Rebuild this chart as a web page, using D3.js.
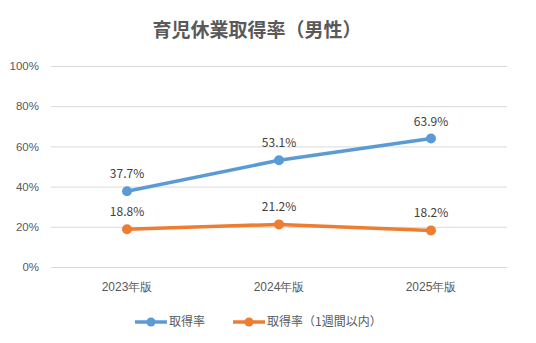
<!DOCTYPE html>
<html>
<head>
<meta charset="utf-8">
<script src="https://cdn.jsdelivr.net/npm/d3@7"></script>
<style>
  body { margin: 0; background: #fff; }
  svg { display: block; font-family: "Noto Sans CJK JP", "Noto Sans", sans-serif; }
</style>
</head>
<body>
<svg id="chart" width="536" height="343"></svg>
<script>
const years = ["2023年版", "2024年版", "2025年版"];
const rateAll = [37.7, 53.1, 63.9];
const rateWeek = [18.8, 21.2, 18.2];
const seriesNames = ["取得率", "取得率（1週間以内）"];
const colors = ["#5B9BD5", "#ED7D31"];
const yTicks = [0, 20, 40, 60, 80, 100];

const width = 536;
const height = 343;
const margin = { top: 66, right: 29, bottom: 76, left: 51 };

const svg = d3.select("#chart");

const x = d3
  .scaleBand()
  .domain(years)
  .range([margin.left, width - margin.right]);

const y = d3
  .scaleLinear()
  .domain([0, 100])
  .range([height - margin.bottom, margin.top]);

// title
svg
  .append("text")
  .attr("x", 257)
  .attr("y", 37)
  .attr("text-anchor", "middle")
  .attr("fill", "#595959")
  .attr("font-size", 19)
  .attr("font-weight", "bold")
  .text("育児休業取得率（男性）");

// gridlines + y labels
const yAxis = (g) =>
  g
    .attr("transform", `translate(${margin.left},0)`)
    .call(
      d3
        .axisLeft(y)
        .tickValues(yTicks)
        .tickSize(-(width - margin.left - margin.right))
        .tickPadding(12)
        .tickFormat((d) => d + "%")
    )
    .call((g) => g.select(".domain").remove())
    .call((g) => g.selectAll(".tick line").attr("stroke", "#d9d9d9"))
    .call((g) =>
      g
        .selectAll(".tick text")
        .attr("fill", "#595959")
        .attr("font-size", 11.5)
    );

svg.append("g").call(yAxis);

const xAxis = (g) =>
  g
    .attr("transform", `translate(0,${height - margin.bottom})`)
    .call(d3.axisBottom(x).tickSize(0).tickPadding(15))
    .call((g) => g.select(".domain").remove())
    .call((g) =>
      g
        .selectAll(".tick text")
        .attr("fill", "#595959")
        .attr("font-size", 12)
    );

svg.append("g").call(xAxis);

const series = [rateAll, rateWeek];
const line = d3
  .line()
  .x((d, i) => x(years[i]) + x.bandwidth() / 2)
  .y((d) => y(d));

series.forEach((vals, s) => {
  const g = svg.append("g");
  g.append("path")
    .datum(vals)
    .attr("fill", "none")
    .attr("stroke", colors[s])
    .attr("stroke-width", 3.5)
    .attr("stroke-linecap", "round")
    .attr("stroke-linejoin", "round")
    .attr("d", line);

  g.selectAll("circle")
    .data(vals)
    .join("circle")
    .attr("cx", (d, i) => x(years[i]) + x.bandwidth() / 2)
    .attr("cy", (d) => y(d))
    .attr("r", 5)
    .attr("fill", colors[s]);

  g.selectAll("text")
    .data(vals)
    .join("text")
    .attr("x", (d, i) => x(years[i]) + x.bandwidth() / 2)
    .attr("y", (d) => y(d) - 13)
    .attr("text-anchor", "middle")
    .attr("fill", "#404040")
    .attr("font-size", 12)
    .text((d) => d.toFixed(1) + "%");
});

// legend
const legendX = [135, 233];
const legend = svg
  .append("g")
  .selectAll("g")
  .data(seriesNames)
  .join("g")
  .attr("transform", (d, i) => `translate(${legendX[i]},322)`);

legend
  .append("line")
  .attr("x1", 0)
  .attr("x2", 32)
  .attr("stroke", (d, i) => colors[i])
  .attr("stroke-width", 3.5);

legend
  .append("circle")
  .attr("cx", 16)
  .attr("r", 4.5)
  .attr("fill", (d, i) => colors[i]);

legend
  .append("text")
  .attr("x", 34)
  .attr("dy", "0.35em")
  .attr("fill", "#595959")
  .attr("font-size", 12)
  .text((d) => d);
</script>
</body>
</html>
